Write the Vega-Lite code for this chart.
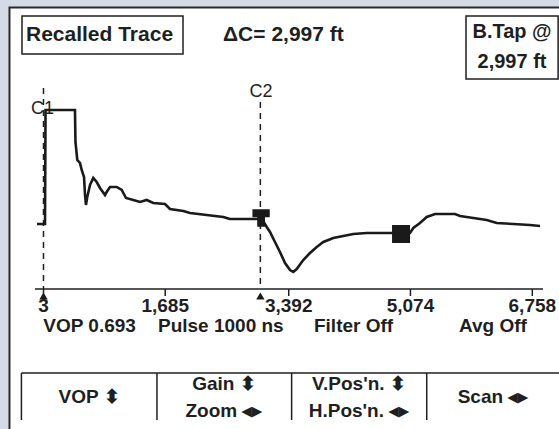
{
  "$schema": "https://vega.github.io/schema/vega-lite/v6.json",
  "width": 559,
  "height": 429,
  "autosize": {"type": "fit", "contains": "padding"},
  "padding": 0,
  "background": "#d6d9e6",
  "config": {"view": {"stroke": null}, "font": "Liberation Sans"},
  "datasets": {
    "panel": [{"x": -467, "x2": 7400, "y": 216.5, "y2": -300}],
    "boxes": [
      {"x": -294, "x2": 1931, "y": 208, "y2": 170},
      {"x": 5842, "x2": 7115, "y": 208, "y2": 145}
    ],
    "segments": [
      {"x": -114, "x2": 6906, "y": -65, "y2": -65},
      {"x": 3, "x2": 3, "y": -65, "y2": -72},
      {"x": 1685, "x2": 1685, "y": -65, "y2": -72},
      {"x": 3392, "x2": 3392, "y": -65, "y2": -72},
      {"x": 5074, "x2": 5074, "y": -65, "y2": -72},
      {"x": 6758, "x2": 6758, "y": -65, "y2": -72},
      {"x": -302, "x2": 7400, "y": -149, "y2": -149},
      {"x": -302, "x2": -302, "y": -149, "y2": -196},
      {"x": 1571, "x2": 1571, "y": -149, "y2": -196},
      {"x": 3432, "x2": 3432, "y": -149, "y2": -196},
      {"x": 5299, "x2": 5299, "y": -149, "y2": -196}
    ],
    "cursors": [
      {"x": 3, "y": 136, "y2": -65},
      {"x": 3000, "y": 122, "y2": -65}
    ],
    "trace": [
      {"x": -87, "y": 0}, {"x": 24, "y": 0}, {"x": 31, "y": 114}, {"x": 65, "y": 114},
      {"x": 438, "y": 114}, {"x": 445, "y": 82}, {"x": 470, "y": 64}, {"x": 507, "y": 61},
      {"x": 531, "y": 54}, {"x": 563, "y": 47}, {"x": 577, "y": 29}, {"x": 590, "y": 19},
      {"x": 608, "y": 27}, {"x": 646, "y": 39}, {"x": 691, "y": 46}, {"x": 738, "y": 42},
      {"x": 784, "y": 36}, {"x": 853, "y": 29}, {"x": 876, "y": 32}, {"x": 922, "y": 37},
      {"x": 1015, "y": 37}, {"x": 1084, "y": 34}, {"x": 1143, "y": 26}, {"x": 1244, "y": 24},
      {"x": 1337, "y": 22}, {"x": 1429, "y": 24}, {"x": 1520, "y": 21}, {"x": 1682, "y": 20},
      {"x": 1751, "y": 15}, {"x": 1935, "y": 13}, {"x": 2028, "y": 11}, {"x": 2258, "y": 9},
      {"x": 2488, "y": 7}, {"x": 2580, "y": 5}, {"x": 2880, "y": 5}, {"x": 3023, "y": 5},
      {"x": 3088, "y": -3}, {"x": 3133, "y": -8}, {"x": 3202, "y": -18}, {"x": 3271, "y": -28},
      {"x": 3341, "y": -39}, {"x": 3410, "y": -46}, {"x": 3455, "y": -48}, {"x": 3502, "y": -45},
      {"x": 3593, "y": -36}, {"x": 3686, "y": -29}, {"x": 3779, "y": -23}, {"x": 3870, "y": -18},
      {"x": 4008, "y": -14}, {"x": 4146, "y": -12}, {"x": 4284, "y": -10}, {"x": 4470, "y": -9},
      {"x": 4815, "y": -9}, {"x": 5068, "y": -9}, {"x": 5114, "y": -4}, {"x": 5206, "y": 1},
      {"x": 5299, "y": 7}, {"x": 5414, "y": 10}, {"x": 5690, "y": 10}, {"x": 5759, "y": 8},
      {"x": 5943, "y": 6}, {"x": 6128, "y": 4}, {"x": 6266, "y": 1}, {"x": 6496, "y": 0},
      {"x": 6726, "y": -1}, {"x": 6865, "y": -2}
    ],
    "squareMarker": [{"x": 4944, "y": -10}],
    "cursorMarker": [{"x": 3010, "y": 6}],
    "triangles": [{"x": 3, "y": -72}, {"x": 3000, "y": -72}],
    "headerLeft": [
      {"label": "Recalled Trace", "x": -239, "y": 189},
      {"label": "ΔC= 2,997 ft", "x": 2484, "y": 189}
    ],
    "boxText": [
      {"label": "B.Tap @", "x": 6478, "y": 192},
      {"label": "2,997 ft", "x": 6478, "y": 162}
    ],
    "tickLabels": [
      {"label": "3", "x": 3, "y": -82},
      {"label": "1,685", "x": 1685, "y": -82},
      {"label": "3,392", "x": 3392, "y": -82},
      {"label": "5,074", "x": 5074, "y": -82},
      {"label": "6,758", "x": 6758, "y": -82}
    ],
    "status": [
      {"label": "VOP 0.693", "x": 0, "y": -102},
      {"label": "Pulse 1000 ns", "x": 1585, "y": -102},
      {"label": "Filter Off", "x": 3741, "y": -102},
      {"label": "Avg Off", "x": 5745, "y": -102}
    ],
    "buttons": [
      {"label": "VOP ⬍", "x": 632, "y": -173},
      {"label": "Gain ⬍", "x": 2497, "y": -160},
      {"label": "Zoom ◂▸", "x": 2497, "y": -187},
      {"label": "V.Pos'n. ⬍", "x": 4363, "y": -160},
      {"label": "H.Pos'n. ◂▸", "x": 4363, "y": -187},
      {"label": "Scan ◂▸", "x": 6215, "y": -173}
    ],
    "cursorLabels": [
      {"label": "C1", "x": -10, "y": 115},
      {"label": "C2", "x": 3009, "y": 132}
    ]
  },
  "encoding": {
    "x": {"field": "x", "type": "quantitative", "scale": {"domain": [-598, 7127], "nice": false, "zero": false}, "axis": null},
    "y": {"field": "y", "type": "quantitative", "scale": {"domain": [-205, 224], "nice": false, "zero": false}, "axis": null}
  },
  "layer": [
    {
      "data": {"name": "panel"},
      "mark": {"type": "rect", "fill": "#ffffff", "stroke": "#2a2a2a", "strokeWidth": 2, "clip": true},
      "encoding": {"x2": {"field": "x2"}, "y2": {"field": "y2"}}
    },
    {
      "data": {"name": "boxes"},
      "mark": {"type": "rect", "fill": "#ffffff", "stroke": "#1f1f1f", "strokeWidth": 1.5, "clip": true},
      "encoding": {"x2": {"field": "x2"}, "y2": {"field": "y2"}}
    },
    {
      "data": {"name": "segments"},
      "mark": {"type": "rule", "color": "#1f1f1f", "strokeWidth": 1.5, "clip": true},
      "encoding": {"x2": {"field": "x2"}, "y2": {"field": "y2"}}
    },
    {
      "data": {"name": "cursors"},
      "mark": {"type": "rule", "color": "#1f1f1f", "strokeWidth": 1.5, "strokeDash": [6, 5]},
      "encoding": {"y2": {"field": "y2"}}
    },
    {
      "data": {"name": "trace"},
      "mark": {"type": "line", "color": "#1a1a1a", "strokeWidth": 2.6, "strokeJoin": "miter"},
      "encoding": {}
    },
    {
      "data": {"name": "squareMarker"},
      "mark": {"type": "point", "shape": "square", "filled": true, "size": 324, "color": "#1a1a1a", "opacity": 1},
      "encoding": {}
    },
    {
      "data": {"name": "cursorMarker"},
      "mark": {"type": "point", "shape": "M-1,-1H1V-0.1H0.45V1H-0.45V-0.1H-1Z", "filled": true, "size": 300, "color": "#1a1a1a", "opacity": 1},
      "encoding": {}
    },
    {
      "data": {"name": "triangles"},
      "mark": {"type": "point", "shape": "triangle-up", "filled": true, "size": 70, "color": "#1a1a1a", "opacity": 1},
      "encoding": {}
    },
    {
      "data": {"name": "headerLeft"},
      "mark": {"type": "text", "align": "left", "baseline": "middle", "fontSize": 21, "fontWeight": "bold", "color": "#1f1f1f"},
      "encoding": {"text": {"field": "label"}}
    },
    {
      "data": {"name": "boxText"},
      "mark": {"type": "text", "align": "center", "baseline": "middle", "fontSize": 20, "fontWeight": "bold", "color": "#1f1f1f"},
      "encoding": {"text": {"field": "label"}}
    },
    {
      "data": {"name": "tickLabels"},
      "mark": {"type": "text", "align": "center", "baseline": "middle", "fontSize": 19, "fontWeight": "bold", "color": "#1f1f1f"},
      "encoding": {"text": {"field": "label"}}
    },
    {
      "data": {"name": "status"},
      "mark": {"type": "text", "align": "left", "baseline": "middle", "fontSize": 19, "fontWeight": "bold", "color": "#1f1f1f"},
      "encoding": {"text": {"field": "label"}}
    },
    {
      "data": {"name": "buttons"},
      "mark": {"type": "text", "align": "center", "baseline": "middle", "fontSize": 19, "fontWeight": "bold", "color": "#1f1f1f"},
      "encoding": {"text": {"field": "label"}}
    },
    {
      "data": {"name": "cursorLabels"},
      "mark": {"type": "text", "align": "center", "baseline": "middle", "fontSize": 18, "color": "#1f1f1f"},
      "encoding": {"text": {"field": "label"}}
    }
  ]
}
